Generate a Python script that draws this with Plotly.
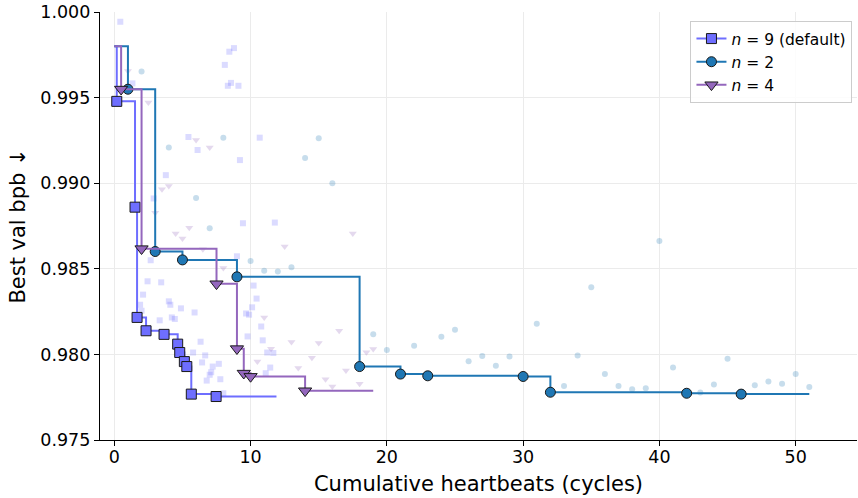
import plotly.graph_objects as go

# ---------------- data ----------------
# starting validation bpb before any trial
START_BPB = 0.998

# n = 9 (default): all visible trials
trials9_x = [0.44, 1.33, 1.89, 2.00, 2.11, 2.44, 2.67, 2.89, 3.33, 3.44, 3.78, 4.00, 4.11, 4.22,
             4.44, 4.89, 5.44, 5.78, 5.89, 6.11, 6.33, 6.44, 6.67, 6.78, 7.00, 7.11, 7.22, 7.67,
             7.78, 8.00, 8.11, 8.33, 8.44, 8.56, 8.78, 9.00, 9.11, 9.22, 9.44, 9.67, 9.78, 9.89,
             10.11, 10.22, 10.44, 10.67, 10.78, 10.89, 11.11, 11.22, 11.44, 11.67, 11.78]
trials9_y = [0.99943, 0.99583, 0.98290, 0.98255, 0.98349, 0.98427, 0.98550, 0.98911, 0.98199,
             0.98421, 0.99047, 0.98310, 0.98290, 0.98216, 0.98207, 0.98269, 0.99270, 0.98011,
             0.98245, 0.99194, 0.98074, 0.97953, 0.97994, 0.97847, 0.97881, 0.97896, 0.97929,
             0.97945, 0.97855, 0.97773, 0.99691, 0.99569, 0.99768, 0.99586, 0.99789, 0.98573,
             0.99569, 0.99135, 0.98766, 0.98239, 0.98105, 0.98232, 0.98275, 0.98402, 0.98326,
             0.99266, 0.98163, 0.98082, 0.97890, 0.98011, 0.97923, 0.98008, 0.98770]
# n = 9: new-best trials
best9_x = [0.18, 1.52, 1.67, 2.33, 3.65, 4.65, 4.80, 5.14, 5.32, 5.65, 7.47]
best9_y = [0.99478, 0.98860, 0.98216, 0.98138, 0.98117, 0.98060, 0.98011, 0.97958, 0.97929,
           0.97768, 0.97754]
end9_x = 11.9

# n = 2
trials2_x = [2, 4, 6, 7, 8, 10, 11, 12, 13, 14, 15, 16, 19, 20, 22, 24, 25, 26, 27, 28, 29,
             31, 33, 34, 35, 36, 37, 38, 39, 40, 41, 43, 44, 45, 47, 48, 49, 50, 51]
trials2_y = [0.99653, 0.99208, 0.98914, 0.98737, 0.99266, 0.98546, 0.98489, 0.98484, 0.98509,
             0.99147, 0.99262, 0.98999, 0.98117, 0.98025, 0.98050, 0.98103, 0.98144, 0.97960,
             0.97990, 0.97933, 0.97988, 0.98179, 0.97816, 0.97993, 0.98392, 0.97886, 0.97816,
             0.97797, 0.97803, 0.98663, 0.97923, 0.97777, 0.97824, 0.97974, 0.97820, 0.97841,
             0.97828, 0.97885, 0.97809]
best2_x = [1, 3, 5, 9, 18, 21, 23, 30, 32, 42, 46]
best2_y = [0.99549, 0.98601, 0.98552, 0.98453, 0.97929, 0.97885, 0.97875, 0.97871, 0.97779,
           0.97773, 0.97768]
end2_x = 51

# n = 4
trials4_x = [1.0, 2.5, 3.0, 3.5, 4.0, 4.5, 5.0, 5.5, 6.0, 6.5, 7.0, 8.0, 10.5, 11.0, 11.5,
             12.5, 13.0, 13.5, 14.5, 15.0, 15.5, 16.0, 16.5, 17.0, 17.5, 18.0, 18.5, 19.0]
trials4_y = [0.99655, 0.99471, 0.98827, 0.98964, 0.98983, 0.98706, 0.98677, 0.98740, 0.99252,
             0.98614, 0.99208, 0.98505, 0.97958, 0.98216, 0.98033, 0.98630, 0.98072, 0.97920,
             0.97980, 0.98066, 0.97855, 0.97812, 0.98138, 0.97906, 0.98706, 0.97828, 0.98013,
             0.98031]
best4_x = [0.5, 2.0, 7.5, 9.0, 9.5, 10.0, 14.0]
best4_y = [0.99549, 0.98617, 0.98412, 0.98033, 0.97890, 0.97871, 0.97787]
end4_x = 19

# ---------------- styling ----------------
FONT = "DejaVu Sans"
series = [
    dict(name="<i>n</i> = 9 (default)", color="#6e6eff", symbol="square", size=10, fsize=6,
         tx=trials9_x, ty=trials9_y, bx=best9_x, by=best9_y, end=end9_x),
    dict(name="<i>n</i> = 2", color="#1f77b4", symbol="circle", size=10, fsize=6,
         tx=trials2_x, ty=trials2_y, bx=best2_x, by=best2_y, end=end2_x),
    dict(name="<i>n</i> = 4", color="#9467bd", symbol="triangle-down", size=11.5, fsize=7,
         tx=trials4_x, ty=trials4_y, bx=best4_x, by=best4_y, end=end4_x),
]

fig = go.Figure()

# faint cloud of every trial
for s in series:
    fig.add_trace(go.Scatter(
        x=s["tx"], y=s["ty"], mode="markers", showlegend=False, hoverinfo="skip",
        marker=dict(symbol=s["symbol"], size=s["fsize"], color=s["color"], opacity=0.25,
                    line=dict(width=0)),
    ))

# best-so-far staircase with markers at each improvement
for s in series:
    step_x = [0] + s["bx"] + [s["end"]]
    step_y = [START_BPB] + s["by"] + [s["by"][-1]]
    fig.add_trace(go.Scatter(
        x=step_x, y=step_y, mode="lines", line=dict(color=s["color"], width=2, shape="hv"),
        showlegend=False, hoverinfo="skip",
    ))
    fig.add_trace(go.Scatter(
        x=s["bx"], y=s["by"], mode="markers", showlegend=False,
        marker=dict(symbol=s["symbol"], size=s["size"], color=s["color"],
                    line=dict(color="#1a1a1a", width=1)),
    ))

# legend entries (line + marker)
for s in series:
    fig.add_trace(go.Scatter(
        x=[None], y=[None], mode="lines+markers", name=s["name"],
        line=dict(color=s["color"], width=2),
        marker=dict(symbol=s["symbol"], size=s["size"], color=s["color"],
                    line=dict(color="#1a1a1a", width=1)),
    ))

axis_common = dict(
    showgrid=True, gridcolor="#ebebeb", gridwidth=1, zeroline=False,
    showline=True, linecolor="#000000", linewidth=1.2, mirror=False,
    ticks="outside", ticklen=5, tickwidth=1.2, tickcolor="#000000",
    tickfont=dict(family=FONT, size=17.5, color="#000000"),
)

fig.update_layout(
    width=858, height=498,
    margin=dict(l=100, r=1, t=12, b=58),
    paper_bgcolor="white", plot_bgcolor="white",
    font=dict(family=FONT, color="#000000"),
    xaxis=dict(range=[-1.05, 54.5], tickvals=[0, 10, 20, 30, 40, 50],
               ticklabelstandoff=-4,
               title=dict(text="Cumulative heartbeats (cycles)",
                          font=dict(family=FONT, size=21), standoff=10),
               **axis_common),
    yaxis=dict(range=[0.975, 1.0], tick0=0.975, dtick=0.005, tickformat=".3f",
               title=dict(text="Best val bpb ↓",
                          font=dict(family=FONT, size=21), standoff=8),
               **axis_common),
    legend=dict(x=0.994, xanchor="right", y=0.979, yanchor="top",
                bgcolor="rgba(255,255,255,0.85)", bordercolor="#cccccc", borderwidth=1,
                font=dict(family=FONT, size=15.5, color="#000000"),
                traceorder="normal"),
    showlegend=True,
)

fig.write_html("out.html")
